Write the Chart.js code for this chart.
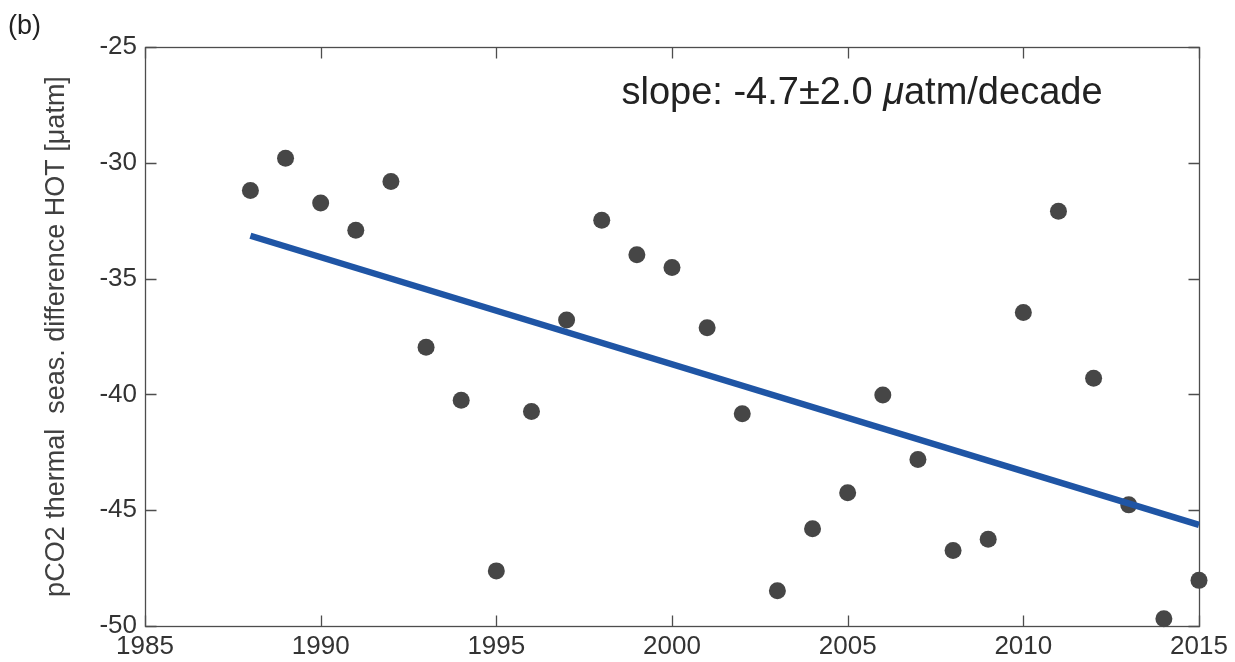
<!DOCTYPE html>
<html>
<head>
<meta charset="utf-8">
<script src="https://cdn.jsdelivr.net/npm/chart.js@4.4.1/dist/chart.umd.min.js"></script>
<style>
  html, body { margin: 0; padding: 0; background: #ffffff; }
  #wrap { width: 1235px; height: 662px; position: relative; }
</style>
</head>
<body>
<div id="wrap"><canvas id="c" width="1235" height="662"></canvas></div>
<script>
// ---- data ----
const years = [1988, 1989, 1990, 1991, 1992, 1993, 1994, 1995, 1996, 1997,
               1998, 1999, 2000, 2001, 2002, 2003, 2004, 2005, 2006, 2007,
               2008, 2009, 2010, 2011, 2012, 2013, 2014, 2015];
const values = [-31.20, -29.80, -31.74, -32.91, -30.81, -37.96, -40.25, -47.62, -40.74, -36.79,
                -32.48, -33.97, -34.52, -37.12, -40.84, -48.48, -45.80, -44.25, -40.03, -42.81,
                -46.74, -46.25, -36.46, -32.09, -39.30, -44.77, -49.69, -48.03];
const fitYears = [1988, 2015];
const fitValues = [-33.15, -45.63];
const xTicks = [1985, 1990, 1995, 2000, 2005, 2010, 2015];
const yTicks = [-50, -45, -40, -35, -30, -25];
const panelLabel = "(b)";
const slopeText = "slope: -4.7\u00B12.0 ";
const slopeMu = "\u03BC";
const slopeUnit = "atm/decade";
const yTitle = "pCO2 thermal  seas. difference HOT [\u03BCatm]";

const FONT = '"Liberation Sans", Arial, Helvetica, sans-serif';
const AXIS_COLOR = '#4d4d4d';

const boxPlugin = {
  id: 'boxTicks',
  beforeDatasetsDraw(chart) {
    const { ctx, chartArea: a, scales } = chart;
    ctx.save();
    ctx.strokeStyle = AXIS_COLOR;
    ctx.lineWidth = 1.3;
    const L = Math.round(a.left) + 0.5, R = Math.round(a.right) + 0.5;
    const T = Math.round(a.top) + 0.5, B = Math.round(a.bottom) + 0.5;
    ctx.strokeRect(L, T, R - L, B - T);
    const tl = 11;
    ctx.beginPath();
    xTicks.forEach(v => {
      const px = Math.round(scales.x.getPixelForValue(v)) + 0.5;
      ctx.moveTo(px, B); ctx.lineTo(px, B - tl);
      ctx.moveTo(px, T); ctx.lineTo(px, T + tl);
    });
    yTicks.forEach(v => {
      const py = Math.round(scales.y.getPixelForValue(v)) + 0.5;
      ctx.moveTo(L, py); ctx.lineTo(L + tl, py);
      ctx.moveTo(R, py); ctx.lineTo(R - tl, py);
    });
    ctx.stroke();
    ctx.restore();
  },
  afterDraw(chart) {
    const { ctx } = chart;
    ctx.save();
    ctx.fillStyle = '#222222';
    ctx.textBaseline = 'alphabetic';
    // panel label
    ctx.font = '27px ' + FONT;
    ctx.textAlign = 'left';
    ctx.fillText(panelLabel, 8, 34);
    // slope annotation
    const fs = 38;
    ctx.font = fs + 'px ' + FONT;
    const w1 = ctx.measureText(slopeText).width;
    ctx.font = 'italic ' + fs + 'px ' + FONT;
    const w2 = ctx.measureText(slopeMu).width;
    ctx.font = fs + 'px ' + FONT;
    const w3 = ctx.measureText(slopeUnit).width;
    const total = w1 + w2 + w3;
    let x = 862 - total / 2;
    const y = 104;
    ctx.fillText(slopeText, x, y); x += w1;
    ctx.font = 'italic ' + fs + 'px ' + FONT;
    ctx.fillText(slopeMu, x, y); x += w2;
    ctx.font = fs + 'px ' + FONT;
    ctx.fillText(slopeUnit, x, y);
    ctx.restore();
  }
};

new Chart(document.getElementById('c'), {
  type: 'scatter',
  data: {
    datasets: [
      {
        label: 'trend',
        data: fitYears.map((x, i) => ({ x: x, y: fitValues[i] })),
        showLine: true,
        borderColor: '#1f55a5',
        borderWidth: 6.5,
        pointRadius: 0,
        fill: false,
        clip: false
      },
      {
        label: 'data',
        data: years.map((x, i) => ({ x: x, y: values[i] })),
        showLine: false,
        pointRadius: 8.5,
        pointBackgroundColor: '#464646',
        pointBorderWidth: 0,
        pointBorderColor: '#464646',
        clip: false
      }
    ]
  },
  options: {
    responsive: false,
    animation: false,
    layout: { padding: { top: 47, right: 36, left: 0, bottom: 0 } },
    plugins: { legend: { display: false }, tooltip: { enabled: false } },
    scales: {
      x: {
        type: 'linear',
        min: 1985, max: 2015,
        grid: { display: false, drawTicks: false },
        border: { display: false },
        afterBuildTicks(scale) { scale.ticks = xTicks.map(v => ({ value: v })); },
        afterFit(scale) { scale.height = 36; },
        ticks: {
          padding: 5,
          color: '#333333',
          font: { size: 26, family: FONT },
          maxRotation: 0,
          autoSkip: false,
          callback: v => String(v)
        }
      },
      y: {
        type: 'linear',
        min: -50, max: -25,
        grid: { display: false, drawTicks: false },
        border: { display: false },
        afterBuildTicks(scale) { scale.ticks = yTicks.map(v => ({ value: v })); },
        afterFit(scale) { scale.width = 145; },
        ticks: {
          padding: 8,
          color: '#333333',
          font: { size: 26, family: FONT },
          autoSkip: false,
          callback: v => String(v)
        },
        title: {
          display: true,
          text: yTitle,
          color: '#404040',
          font: { size: 27, family: FONT },
          padding: { top: 40, bottom: 0 }
        }
      }
    }
  },
  plugins: [boxPlugin]
});
</script>
</body>
</html>
